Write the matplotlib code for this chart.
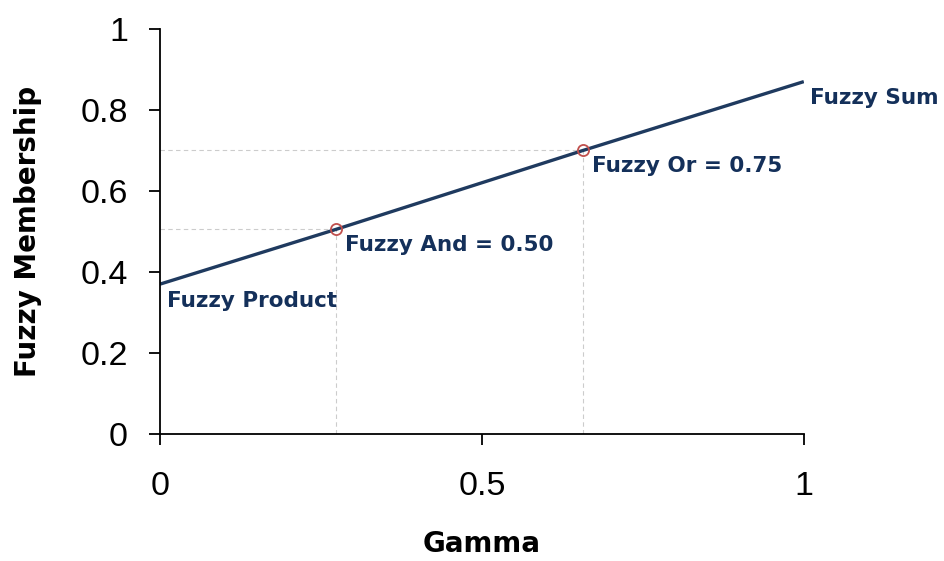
import numpy as np
import matplotlib.pyplot as plt

gamma = [0.0, 0.273, 0.657, 1.0]
membership = [0.37, 0.505, 0.70, 0.87]
labels = ["Fuzzy Product", "Fuzzy And = 0.50", "Fuzzy Or = 0.75", "Fuzzy Sum"]
marked = [1, 2]  # points that get a circle and guide lines

line_col = '#1f3a5f'
text_col = '#14305a'

fig = plt.figure(figsize=(9.44, 5.61), dpi=100)
ax = fig.add_axes([0.1695, 0.2264, 0.682, 0.722])

for i in marked:
    ax.plot([0, gamma[i]], [membership[i], membership[i]], color='#cccccc', lw=0.8, ls=(0, (4, 3)), zorder=1)
    ax.plot([gamma[i], gamma[i]], [0, membership[i]], color='#cccccc', lw=0.8, ls=(0, (4, 3)), zorder=1)

ax.plot(gamma, membership, color=line_col, lw=2.4, zorder=2, solid_capstyle='butt')
ax.plot([gamma[i] for i in marked], [membership[i] for i in marked], 'o', ms=8,
        mfc='none', mec='#c0504d', mew=1.3, zorder=3)

offsets = [(7, -17), (9, -16), (9, -16), (6, -16)]
for x, y, t, off in zip(gamma, membership, labels, offsets):
    ax.annotate(t, (x, y), xytext=off, textcoords='offset pixels', ha='left', va='center',
                fontsize=15.5, fontweight='bold', color=text_col, family='DejaVu Sans')

ax.set_xlim(0, 1)
ax.set_ylim(0, 1)
ax.set_xticks([0, 0.5, 1])
ax.set_xticklabels(['0', '0.5', '1'])
ax.set_yticks([0, 0.2, 0.4, 0.6, 0.8, 1])
ax.set_yticklabels(['0', '0.2', '0.4', '0.6', '0.8', '1'])
for lab in ax.get_xticklabels() + ax.get_yticklabels():
    lab.set_family('Liberation Sans')
    lab.set_fontsize(24.5)
ax.tick_params(direction='out', length=8, width=1.3)
ax.tick_params(axis='y', pad=15)
ax.tick_params(axis='x', pad=19)
ax.spines['top'].set_visible(False)
ax.spines['right'].set_visible(False)
ax.spines['left'].set_linewidth(1.3)
ax.spines['bottom'].set_linewidth(1.3)

ax.set_xlabel('Gamma', fontsize=20, fontweight='bold', family='DejaVu Sans', labelpad=20)
ax.set_ylabel('Fuzzy Membership', fontsize=20, fontweight='bold', family='DejaVu Sans', labelpad=28)

fig.savefig('out.png', dpi=100)
